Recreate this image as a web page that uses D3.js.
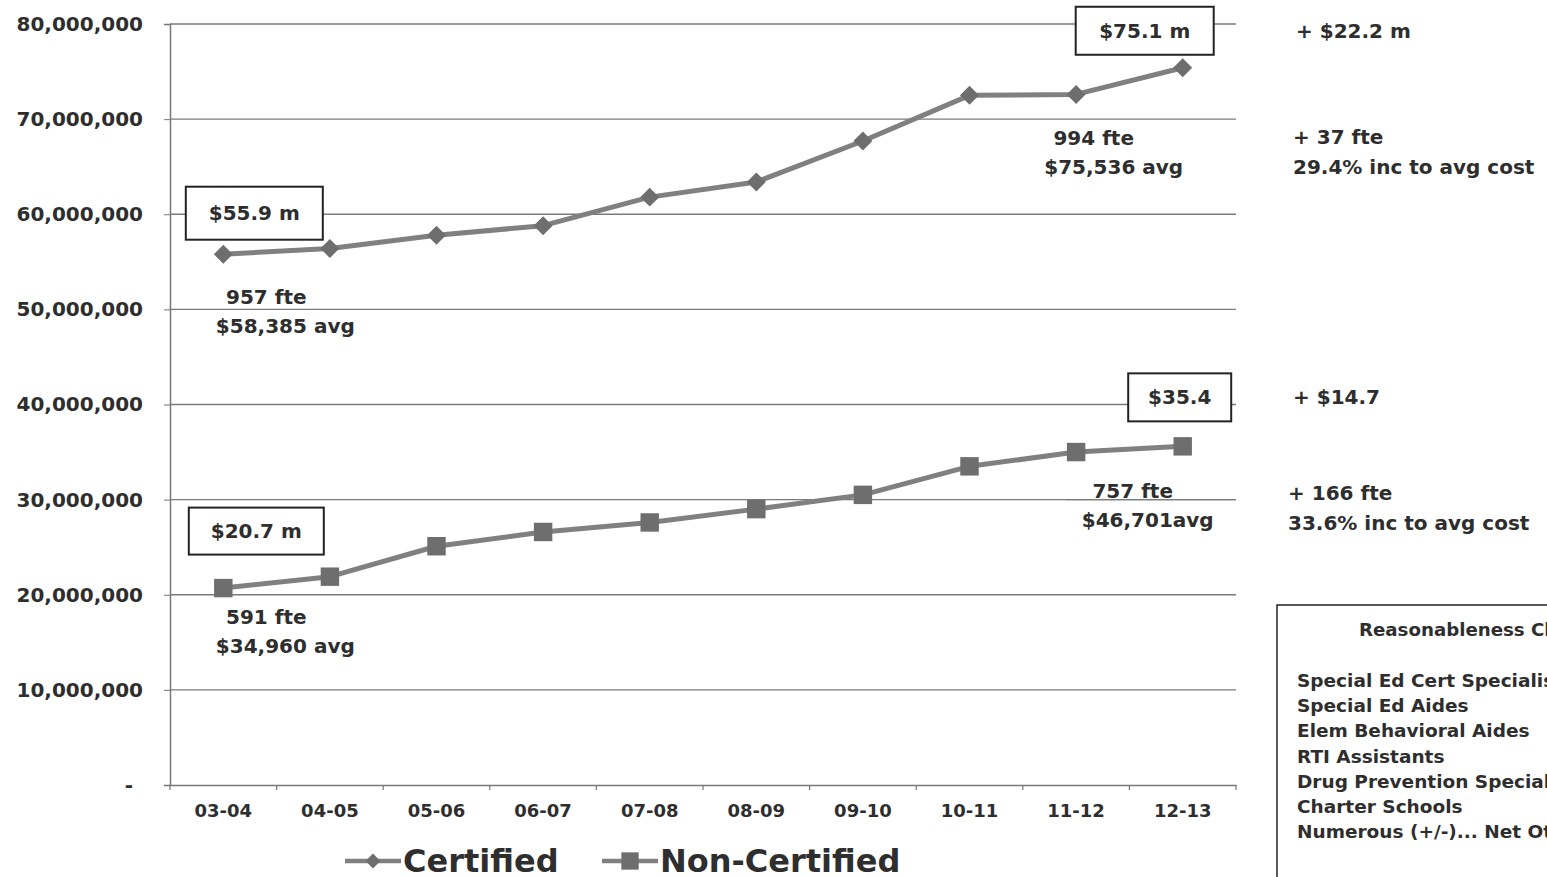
<!DOCTYPE html>
<html>
<head>
<meta charset="utf-8">
<script src="https://cdn.jsdelivr.net/npm/d3@7"></script>
<style>
  html, body { margin: 0; padding: 0; background: #fff; overflow: hidden; }
  svg { display: block; font-family: "DejaVu Sans", Verdana, sans-serif; font-weight: bold; }
</style>
</head>
<body>
<svg id="chart" width="1547" height="877"></svg>
<script>
// ---- data ----
const categories = ["03-04","04-05","05-06","06-07","07-08","08-09","09-10","10-11","11-12","12-13"];
const certified = [55800000, 56400000, 57800000, 58800000, 61800000, 63400000, 67700000, 72500000, 72600000, 75400000];
const nonCertified = [20700000, 21900000, 25100000, 26600000, 27600000, 29000000, 30500000, 33500000, 35000000, 35600000];
const yTicks = [0, 10000000, 20000000, 30000000, 40000000, 50000000, 60000000, 70000000, 80000000];
const seriesNames = ["Certified", "Non-Certified"];
const startBoxes = ["$55.9 m", "$20.7 m"];
const endBoxes = ["$75.1 m", "$35.4"];
const startNotes = [["957 fte", "$58,385 avg"], ["591 fte", "$34,960 avg"]];
const endNotes = [["994 fte", "$75,536 avg"], ["757 fte", "$46,701avg"]];
const sideNotes = [["+ $22.2 m"], ["+ 37 fte", "29.4% inc to avg cost"], ["+ $14.7"], ["+ 166 fte", "33.6% inc to avg cost"]];
const checkTitle = "Reasonableness Check";
const checkItems = ["Special Ed Cert Specialists", "Special Ed Aides", "Elem Behavioral Aides", "RTI Assistants", "Drug Prevention Specialists", "Charter Schools", "Numerous (+/-)... Net Other"];

// ---- layout ----
const svg = d3.select("#chart");
const pL = 170, pR = 1236, pT = 24, pB = 785;
const textCol = "#2e2e2e";
const lineCol = "#808080";
const markCol = "#6e6e6e";
const FONT = "'DejaVu Sans', Verdana, sans-serif";

const x = d3.scaleBand().domain(categories).range([pL, pR]).padding(0);
const y = d3.scaleLinear().domain([0, 80000000]).range([pB, pT]);
const cx = c => x(c) + x.bandwidth() / 2;

// gridlines
svg.append("g").selectAll("line").data(yTicks.filter(d => d > 0)).join("line")
  .attr("x1", pL).attr("x2", pR)
  .attr("y1", d => y(d)).attr("y2", d => y(d))
  .attr("stroke", "#7a7a7a").attr("stroke-width", 1.3);

// y axis
const yAxis = d3.axisLeft(y).tickValues(yTicks).tickSize(6).tickPadding(21)
  .tickFormat(d => d === 0 ? "-" : d3.format(",")(d));
const gy = svg.append("g").attr("transform", `translate(${pL},0)`).call(yAxis);
gy.select(".domain").attr("stroke", "#777").attr("stroke-width", 1.5);
gy.selectAll(".tick line").attr("stroke", "#777");
gy.selectAll(".tick text").attr("fill", textCol).attr("font-size", 20).attr("font-weight", "bold")
  .attr("font-family", FONT)
  .attr("dx", d => d === 0 ? -10 : 0);

// x axis
const xAxis = d3.axisBottom(x).tickSize(0).tickPadding(19);
const gx = svg.append("g").attr("transform", `translate(0,${pB})`).call(xAxis);
gx.select(".domain").attr("stroke", "#777").attr("stroke-width", 1.5);
gx.selectAll(".tick text").attr("fill", textCol).attr("font-size", 18).attr("font-weight", "bold")
  .attr("font-family", FONT);
// category boundary ticks
const bounds = categories.map(c => x(c)).concat([pR]);
svg.append("g").selectAll("line").data(bounds).join("line")
  .attr("x1", d => d).attr("x2", d => d).attr("y1", pB).attr("y2", pB + 5)
  .attr("stroke", "#777").attr("stroke-width", 1.2);

// lines
const line = d3.line().x((d, i) => cx(categories[i])).y(d => y(d));
[certified, nonCertified].forEach(vals => {
  svg.append("path").datum(vals).attr("d", line)
    .attr("fill", "none").attr("stroke", lineCol).attr("stroke-width", 5).attr("stroke-linejoin", "round");
});
// markers
const diamond = d3.symbol().type(d3.symbolSquare).size(180);
const square = d3.symbol().type(d3.symbolSquare).size(340);
svg.append("g").selectAll("path").data(certified).join("path")
  .attr("d", diamond)
  .attr("transform", (d, i) => `translate(${cx(categories[i])},${y(d)}) rotate(45)`)
  .attr("fill", markCol);
svg.append("g").selectAll("path").data(nonCertified).join("path")
  .attr("d", square)
  .attr("transform", (d, i) => `translate(${cx(categories[i])},${y(d)})`)
  .attr("fill", markCol);

// annotation boxes
function box(cxp, cyp, w, h, label) {
  svg.append("rect").attr("x", cxp - w / 2).attr("y", cyp - h / 2).attr("width", w).attr("height", h)
    .attr("fill", "#fff").attr("stroke", "#222").attr("stroke-width", 2);
  svg.append("text").attr("x", cxp).attr("y", cyp + 7).attr("text-anchor", "middle")
    .attr("font-size", 20).attr("fill", textCol).text(label);
}
box(cx(categories[0]) + 31, y(certified[0]) - 41, 137, 53, startBoxes[0]);
box(cx(categories[9]) - 38, y(certified[9]) - 37, 138, 48, endBoxes[0]);
box(cx(categories[0]) + 33, y(nonCertified[0]) - 57, 135, 47, startBoxes[1]);
box(cx(categories[9]) - 3, y(nonCertified[9]) - 49, 103, 48, endBoxes[1]);

// notes near points
function notes(xc, y0, lines, offs) {
  lines.forEach((t, i) => {
    svg.append("text").attr("x", xc + offs[i]).attr("y", y0 + i * 29).attr("text-anchor", "middle")
      .attr("font-size", 20).attr("fill", textCol).text(t);
  });
}
notes(cx(categories[0]), y(certified[0]) + 50, startNotes[0], [43, 62]);
notes(cx(categories[9]), y(certified[9]) + 77, endNotes[0], [-89, -69]);
notes(cx(categories[0]), y(nonCertified[0]) + 36, startNotes[1], [43, 62]);
notes(cx(categories[9]), y(nonCertified[9]) + 52, endNotes[1], [-50, -35]);
// gridline drawn over "757 fte"
svg.append("line").attr("x1", cx(categories[8]) - 10).attr("x2", pR)
  .attr("y1", y(30000000)).attr("y2", y(30000000)).attr("stroke", "#7a7a7a").attr("stroke-width", 1.3);

// side notes
const sidePos = [[1296, 38], [1293, 144], [1293, 404], [1288, 500]];
sideNotes.forEach((ls, k) => {
  ls.forEach((t, i) => {
    svg.append("text").attr("x", sidePos[k][0]).attr("y", sidePos[k][1] + i * 30)
      .attr("font-size", 20).attr("fill", textCol).text(t);
  });
});

// reasonableness box
svg.append("rect").attr("x", 1277).attr("y", 605).attr("width", 300).attr("height", 300)
  .attr("fill", "#fff").attr("stroke", "#222").attr("stroke-width", 1.5);
svg.append("text").attr("x", 1359).attr("y", 636).attr("font-size", 18.2).attr("fill", textCol).text(checkTitle);
checkItems.forEach((t, i) => {
  svg.append("text").attr("x", 1297).attr("y", 687 + i * 25.2).attr("font-size", 18.5).attr("fill", textCol).text(t);
});

// legend
const legend = svg.append("g");
const legItems = [{x0: 345, tx: 403, sym: "diamond"}, {x0: 602, tx: 660, sym: "square"}];
legItems.forEach((it, i) => {
  legend.append("line").attr("x1", it.x0).attr("x2", it.x0 + 56).attr("y1", 861).attr("y2", 861)
    .attr("stroke", lineCol).attr("stroke-width", 4.5);
  const s = it.sym === "diamond"
    ? d3.symbol().type(d3.symbolSquare).size(110)
    : d3.symbol().type(d3.symbolSquare).size(300);
  legend.append("path").attr("d", s)
    .attr("transform", `translate(${it.x0 + 28},861)` + (it.sym === "diamond" ? " rotate(45)" : ""))
    .attr("fill", markCol);
  legend.append("text").attr("x", it.tx).attr("y", 872).attr("font-size", 32).attr("fill", textCol).text(seriesNames[i]);
});
</script>
</body>
</html>
